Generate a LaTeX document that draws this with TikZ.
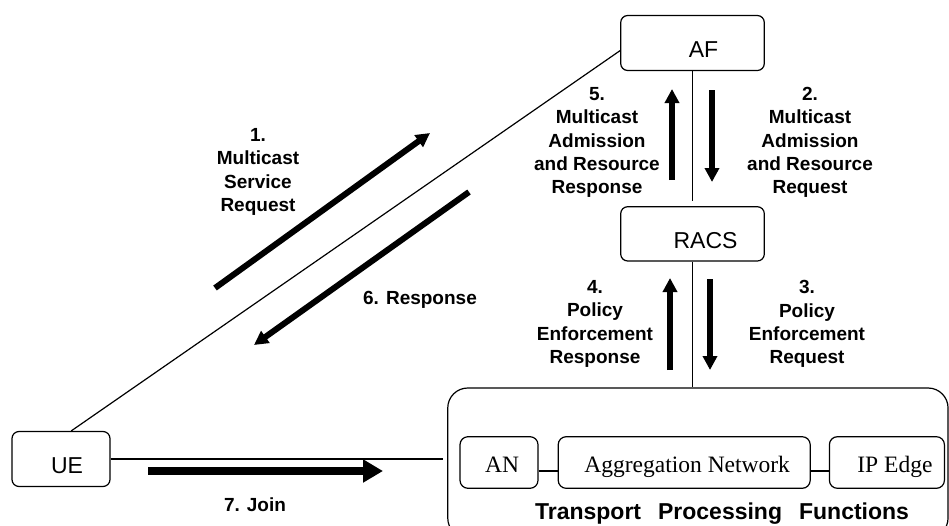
\documentclass[tikz,border=0pt]{standalone}
\usepackage{fontspec}
\setmainfont{Liberation Sans}
\newfontfamily\timesfont{Liberation Serif}
\usetikzlibrary{arrows.meta,positioning,calc}

\begin{document}
\begin{tikzpicture}[x=1pt, y=-1pt,
  every node/.style={inner sep=0pt},
  box/.style={rectangle, rounded corners=7pt, draw, line width=1.2pt, minimum width=143.6pt, minimum height=55pt, font=\fontsize{23}{27}\selectfont, text height=29pt, text depth=0pt},
  subbox/.style={rectangle, rounded corners=8pt, draw, line width=1.2pt, minimum height=51.6pt, font=\timesfont\fontsize{23.5}{27}\selectfont, text height=19pt, text depth=0pt},
  link/.style={line width=1.2pt},
  msg/.style={line width=6pt, -{Triangle[length=14pt,width=14pt]}},
  lbl/.style={font=\bfseries\fontsize{19}{23.3}\selectfont, align=center}
]
\useasboundingbox (0,0) rectangle (949,525);

\node[box] (af) at (692.5,43) {\hspace*{22pt}AF};
\node[box, below=135pt of af, minimum height=54.3pt] (racs) {\hspace*{26pt}RACS};
\node[box, minimum width=98pt] (ue) at (61,459) {\hspace*{12pt}UE};

\node[draw, line width=1.2pt, rounded corners=20pt, minimum width=500.3pt, minimum height=150pt] (tpf) at (697.9,463) {};
\node[subbox, minimum width=78pt] (an) at (499,462.5) {\hspace*{6pt}AN};
\node[subbox, minimum width=252pt, right=19pt of an] (agg) {\hspace*{6pt}Aggregation Network};
\node[subbox, minimum width=115pt, right=18pt of agg] (edge) {\hspace*{16pt}IP Edge};
\node[font=\bfseries\fontsize{23}{27}\selectfont, anchor=base] (tpfname) at (722,519.5) {Transport\hspace{17pt}Processing\hspace{17pt}Functions};

% plain links
\draw[link] (ue.70) -- (af.186);
\draw[link] (af.south) -- ($(racs.north)+(0,-5)$);
\draw[link] (racs.south) -- (racs.south |- tpf.north);
\draw[link] (ue.east) -- ($(ue.east -| tpf.west)+(-4,0)$);
\draw[link] ($(an.east)+(0,8.5)$) -- ($(agg.west)+(0,8.5)$);
\draw[link] ($(agg.east)+(0,8.5)$) -- ($(edge.west)+(0,8.5)$);

% message arrows
\coordinate (m1a) at (215,288);  \coordinate (m1b) at (430,133);
\coordinate (m6a) at (469,192);  \coordinate (m6b) at (254,345);
\coordinate (m5a) at (672,180);  \coordinate (m5b) at (672,89);
\coordinate (m2a) at (712,90);   \coordinate (m2b) at (712,182);
\coordinate (m4a) at (670,370);  \coordinate (m4b) at (670,278);
\coordinate (m3a) at (710,279);  \coordinate (m3b) at (710,370);
\coordinate (m7a) at (148,471);  \coordinate (m7b) at (383,471);

\draw[msg] (m1a) -- (m1b);
\draw[msg] (m6a) -- (m6b);
\draw[msg] (m5a) -- (m5b);
\draw[msg] (m2a) -- (m2b);
\draw[msg] (m4a) -- (m4b);
\draw[msg] (m3a) -- (m3b);
\draw[msg, line width=8pt, -{Triangle[length=20pt,width=22pt]}] (m7a) -- (m7b);

\node[lbl] (l1) at (258,172) {1.\\Multicast\\Service\\Request};
\node[lbl] (l5) at (597,142.5) {5.\\Multicast\\Admission\\and Resource\\Response};
\node[lbl] (l2) at (810,142.5) {2.\\Multicast\\Admission\\and Resource\\Request};
\node[lbl] (l4) at (595,324) {4.\\Policy\\Enforcement\\Response};
\node[lbl] (l3) at (807,324) {3.\\Policy\\Enforcement\\Request};
\node[lbl] (l6) at (420,300) {6. Response};
\node[lbl] (l7) at (255,505) {7. Join};
\end{tikzpicture}
\end{document}
